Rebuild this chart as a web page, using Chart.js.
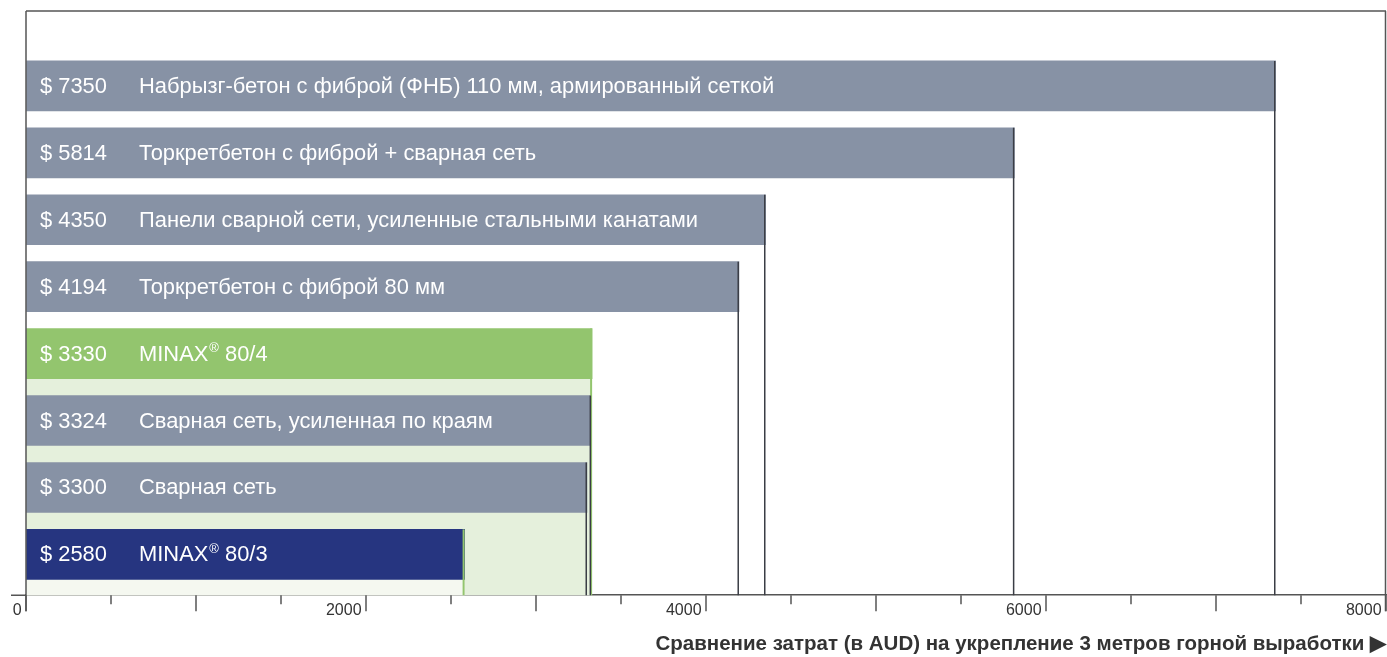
<!DOCTYPE html>
<html>
<head>
<meta charset="utf-8">
<script src="https://cdn.jsdelivr.net/npm/chart.js@4.4.1/dist/chart.umd.min.js"></script>
<style>
  html, body { margin: 0; padding: 0; background: #fff; }
  #wrap { width: 1387px; height: 657px; }
</style>
</head>
<body>
<div id="wrap"><canvas id="chartCosts"></canvas></div>
<script>
// данные
const categories = [
  'Набрызг-бетон с фиброй (ФНБ) 110 мм, армированный сеткой',
  'Торкретбетон с фиброй + сварная сеть',
  'Панели сварной сети, усиленные стальными канатами',
  'Торкретбетон с фиброй 80 мм',
  'MINAX® 80/4',
  'Сварная сеть, усиленная по краям',
  'Сварная сеть',
  'MINAX® 80/3'
];
const costs = [7350, 5814, 4350, 4194, 3330, 3324, 3300, 2580];
const tickValues = [0, 2000, 4000, 6000, 8000];
const axisTitle = 'Сравнение затрат (в AUD) на укрепление 3 метров горной выработки ▶';

// стили
const GRAY = '#8792a5';
const GREEN = '#93c56e';
const NAVY = '#263580';
const barColors = categories.map(c =>
  c.indexOf('80/4') >= 0 ? GREEN : (c.indexOf('80/3') >= 0 ? NAVY : GRAY));
const FONT = '"Liberation Sans", Arial, Helvetica, sans-serif';
const LABEL_SIZE = 21.9;

const decor = {
  id: 'decor',
  beforeDatasetsDraw(chart) {
    const { ctx, scales: { x } } = chart;
    const bottom = chart.chartArea.bottom;
    const bars = chart.getDatasetMeta(0).data;
    ctx.save();
    categories.forEach((c, i) => {
      if (c.indexOf('MINAX') < 0) return;
      const b = bars[i];
      const top = b.y + b.height / 2;
      ctx.fillStyle = c.indexOf('80/4') >= 0 ? '#e5f0dc' : '#f5f8f0';
      ctx.fillRect(x.getPixelForValue(0), top, b.x - x.getPixelForValue(0), bottom - top);
    });
    ctx.restore();
  },
  afterDatasetsDraw(chart) {
    const { ctx, scales: { x }, chartArea } = chart;
    const bars = chart.getDatasetMeta(0).data;
    ctx.save();
    // линии от конца столбца до оси
    bars.forEach((b, i) => {
      const isMinax = categories[i].indexOf('MINAX') >= 0;
      ctx.strokeStyle = isMinax ? GREEN : '#3a3d45';
      ctx.lineWidth = isMinax ? 2 : 1.5;
      ctx.beginPath();
      ctx.moveTo(b.x - ctx.lineWidth / 2, b.y - b.height / 2);
      ctx.lineTo(b.x - ctx.lineWidth / 2, chartArea.bottom);
      ctx.stroke();
    });
    // подписи внутри столбцов
    ctx.fillStyle = '#fff';
    ctx.textBaseline = 'middle';
    const big = LABEL_SIZE + 'px ' + FONT;
    bars.forEach((b, i) => {
      const left = x.getPixelForValue(0);
      ctx.font = big;
      ctx.fillText('$ ' + costs[i], left + 14, b.y + 1);
      const parts = categories[i].split('®');
      let px = left + 113;
      ctx.fillText(parts[0], px, b.y + 1);
      if (parts.length > 1) {
        px += ctx.measureText(parts[0]).width + 1;
        ctx.font = '13px ' + FONT;
        ctx.fillText('®', px, b.y - 5);
        px += ctx.measureText('®').width;
        ctx.font = big;
        ctx.fillText(parts[1], px, b.y + 1);
      }
    });
    ctx.restore();
  },
  afterDraw(chart) {
    const { ctx, scales: { x }, chartArea: a } = chart;
    ctx.save();
    ctx.strokeStyle = '#555';
    ctx.lineWidth = 1.5;
    // рамка
    ctx.beginPath();
    ctx.moveTo(a.left, a.top);
    ctx.lineTo(a.right, a.top);
    ctx.moveTo(a.left, a.top);
    ctx.lineTo(a.left, a.bottom + 16);
    ctx.moveTo(a.right - 0.5, a.top);
    ctx.lineTo(a.right - 0.5, a.bottom + 16);
    ctx.moveTo(11, a.bottom);
    ctx.lineTo(a.left, a.bottom);
    ctx.stroke();
    // деления оси
    for (let v = 0; v <= 8000; v += 500) {
      const px = x.getPixelForValue(v);
      ctx.beginPath();
      ctx.moveTo(px, a.bottom);
      ctx.lineTo(px, a.bottom + (v % 1000 === 0 ? 16 : 9));
      ctx.stroke();
    }
    ctx.restore();
  }
};

new Chart(document.getElementById('chartCosts'), {
  type: 'bar',
  data: {
    datasets: [{
      data: costs.map((v, i) => ({ x: v, y: i })),
      backgroundColor: barColors,
      borderWidth: 0,
      barThickness: 50
    }]
  },
  options: {
    indexAxis: 'y',
    responsive: true,
    maintainAspectRatio: false,
    animation: false,
    layout: { padding: { left: 26, right: 1, top: 11, bottom: 0 } },
    plugins: { legend: { display: false }, tooltip: { enabled: false } },
    scales: {
      y: {
        type: 'linear',
        display: false,
        reverse: true,
        offset: false,
        min: -1.12,
        max: 7.61
      },
      x: {
        type: 'linear',
        min: 0,
        max: 8000,
        afterBuildTicks: s => { s.ticks = tickValues.map(v => ({ value: v })); },
        afterFit: s => { s.paddingRight = 0; },
        grid: { display: true, drawOnChartArea: false, drawTicks: false },
        border: { display: true, color: '#555', width: 1.5 },
        ticks: {
          align: 'end',
          padding: 6,
          color: '#333',
          font: { family: FONT, size: 16 },
          callback: v => v + ' '
        },
        title: {
          display: true,
          text: axisTitle,
          align: 'end',
          color: '#333',
          font: { family: FONT, size: 20.5, weight: 'bold' },
          padding: { top: 6, bottom: 0 }
        }
      }
    }
  },
  plugins: [decor]
});
</script>
</body>
</html>
